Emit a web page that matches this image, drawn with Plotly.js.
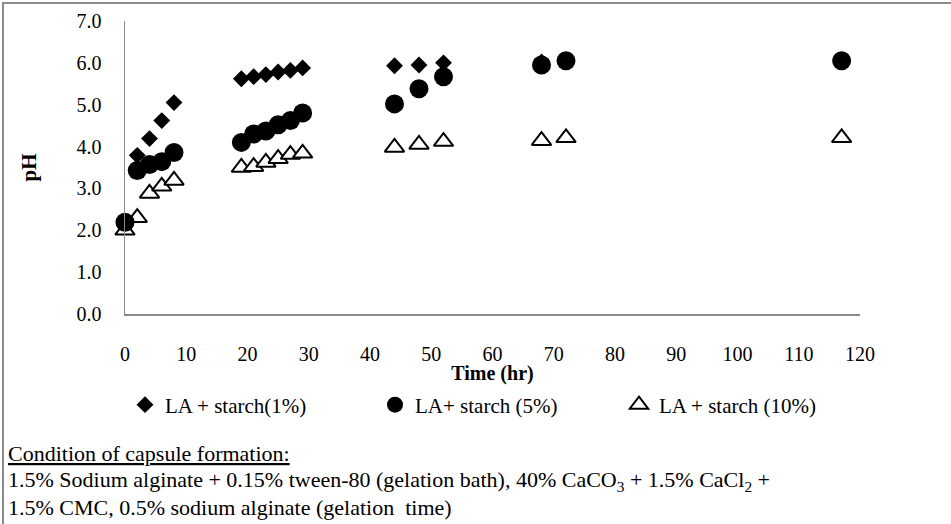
<!DOCTYPE html>
<html>
<head>
<meta charset="utf-8">
<script src="https://cdn.plot.ly/plotly-3.0.1.min.js"></script>
<style>html,body{margin:0;padding:0;background:#fff;}#chart{width:951px;height:524px;}</style>
</head>
<body>
<div id="chart"></div>
<script>
// Data
const timeS1 = [0, 2, 4, 6, 8, 19, 21, 23, 25, 27, 29, 44, 48, 52, 68, 72, 117];
const phS1   = [2.15, 3.79, 4.19, 4.62, 5.05, 5.62, 5.67, 5.72, 5.78, 5.82, 5.88, 5.93, 5.95, 6.0, 6.02, 6.05, 6.05];

const timeS2 = [0, 2, 4, 6, 8, 19, 21, 23, 25, 27, 29, 44, 48, 52, 68, 72, 117];
const phS2   = [2.19, 3.43, 3.57, 3.64, 3.86, 4.1, 4.3, 4.37, 4.52, 4.62, 4.8, 5.02, 5.38, 5.67, 5.95, 6.05, 6.05];

const timeS3 = [0, 2, 4, 6, 8, 19, 21, 23, 25, 27, 29, 44, 48, 52, 68, 72, 117];
const phS3   = [2.0, 2.3, 2.88, 3.05, 3.19, 3.5, 3.52, 3.62, 3.71, 3.81, 3.84, 3.98, 4.05, 4.12, 4.14, 4.21, 4.21];

const seriesNames = ['LA + starch(1%)', 'LA+ starch (5%)', 'LA + starch (10%)'];
const xTicks = [0, 10, 20, 30, 40, 50, 60, 70, 80, 90, 100, 110, 120];
const yTicks = [0, 1, 2, 3, 4, 5, 6, 7];

const FONT = 'Liberation Serif, Times New Roman, serif';
const GRAY = '#8a8a8a';

const traces = [
  { x: timeS1, y: phS1, name: seriesNames[0], type: 'scatter', mode: 'markers', legend: 'legend',
    marker: { symbol: 'diamond', size: 13, color: '#000' }, cliponaxis: false },
  { x: timeS3, y: phS3, name: seriesNames[2], type: 'scatter', mode: 'markers', legend: 'legend3',
    marker: { symbol: 'triangle-up', size: 17, color: '#fff', line: { color: '#000', width: 2 } }, cliponaxis: false },
  { x: timeS2, y: phS2, name: seriesNames[1], type: 'scatter', mode: 'markers', legend: 'legend2',
    marker: { symbol: 'circle', size: 19, color: '#000' }, cliponaxis: false }
];

// plot area: x 125..860, y 21..314
const L = 125, R = 860, T = 21, B = 314;
const px = v => (v - L) / (R - L);
const py = v => (B - v) / (B - T);

function legendAt(xpx) {
  return {
    orientation: 'h', xref: 'container', yref: 'container',
    x: xpx / 951, y: 1 - 405 / 524, xanchor: 'left', yanchor: 'middle',
    itemwidth: 30,
    font: { family: FONT, size: 21, color: '#000' }, bgcolor: 'rgba(0,0,0,0)'
  };
}

const layout = {
  width: 951, height: 524,
  margin: { l: L, r: 951 - R, t: T, b: 524 - B },
  paper_bgcolor: '#fff', plot_bgcolor: '#fff',
  font: { family: FONT, size: 20, color: '#000' },
  showlegend: true,
  legend: legendAt(125),
  legend2: legendAt(375),
  legend3: legendAt(619),
  xaxis: {
    range: [0, 120], tickvals: xTicks, ticktext: xTicks.map(String),
    showgrid: false, zeroline: false, showline: true, linecolor: GRAY, linewidth: 1.5,
    ticks: 'outside', ticklen: 21, tickcolor: 'rgba(0,0,0,0)', tickfont: { family: FONT, size: 20 },
    title: { text: '<b>Time (hr)</b>', font: { family: FONT, size: 20 }, standoff: 7 },
    fixedrange: true
  },
  yaxis: {
    range: [0, 7], tickvals: yTicks, ticktext: yTicks.map(v => v.toFixed(1)),
    showgrid: false, zeroline: false, showline: true, linecolor: GRAY, linewidth: 1.5,
    ticks: '', ticklabelstandoff: 18, tickfont: { family: FONT, size: 20 },
    title: { text: '<b>pH</b>', font: { family: FONT, size: 21 }, standoff: 34 },
    fixedrange: true
  },
  shapes: [
    { type: 'path', xref: 'paper', yref: 'paper',
      path: `M ${px(3)} ${py(530)} L ${px(3)} ${py(3)} L ${px(960)} ${py(3)}`,
      line: { color: GRAY, width: 2 } }
  ],
  annotations: [
    { xref: 'paper', yref: 'paper', x: px(6), y: py(453), xanchor: 'left', yanchor: 'middle', showarrow: false,
      text: '<u>Condition of capsule formation:</u>', font: { family: FONT, size: 22 } },
    { xref: 'paper', yref: 'paper', x: px(6), y: py(481), xanchor: 'left', yanchor: 'middle', showarrow: false,
      text: '1.5% Sodium alginate + 0.15% tween-80 (gelation bath), 40% CaCO<sub>3</sub> + 1.5% CaCl<sub>2</sub> +', font: { family: FONT, size: 22 } },
    { xref: 'paper', yref: 'paper', x: px(6), y: py(507), xanchor: 'left', yanchor: 'middle', showarrow: false,
      text: '1.5% CMC, 0.5% sodium alginate (gelation  time)', font: { family: FONT, size: 22 } }
  ]
};

Plotly.newPlot('chart', traces, layout, { displayModeBar: false, staticPlot: true });
</script>
</body>
</html>
